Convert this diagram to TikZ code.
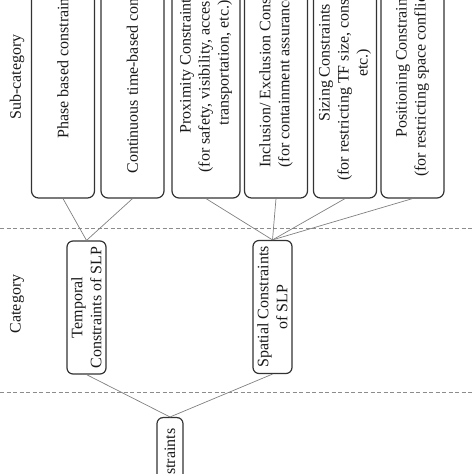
\documentclass[tikz,border=0pt]{standalone}
\usepackage{fontspec}
\setmainfont{Liberation Serif}

\begin{document}
\begin{tikzpicture}[
  x=1pt, y=1pt,
  every node/.style={font=\fontsize{16}{19}\selectfont, text=black!90},
  subbox/.style={draw=black!80, line width=1.2pt, rounded corners=7pt, rotate=90,
              align=center, minimum width=270pt, minimum height=63pt, inner sep=3pt},
  catbox/.style={draw=black!80, line width=1.2pt, rounded corners=6pt, rotate=90,
              align=center, minimum width=133pt, minimum height=39pt, inner sep=2pt},
  rootbox/.style={draw=black!80, line width=1.2pt, rounded corners=6pt, rotate=90,
              anchor=east, minimum height=26pt, inner xsep=11pt, inner ysep=2pt},
  lbl/.style={rotate=90},
  link/.style={draw=black!50, line width=0.7pt},
  sep/.style={draw=black!45, line width=0.9pt, dash pattern=on 4pt off 2.5pt}
]

\useasboundingbox (0,0) rectangle (474,474);
\clip (0,0) rectangle (474,474);

% level labels
\node[lbl] (sublbl) at (17,397) {Sub-category};
\node[lbl] (catlbl) at (17,170) {Category};

% separators
\draw[sep] (0,246) -- (474,246);
\draw[sep] (0,82)  -- (474,82);

% sub-categories
\node[subbox] (phase)  at (63,411)    {Phase based constraints};
\node[subbox] (cont)   at (132.5,411) {Continuous time-based constraints};
\node[subbox, minimum height=68pt] (prox) at (206,411)
  {Proximity Constraints\\(for safety, visibility, accessibility,\\transportation, etc.)};
\node[subbox] (incl)   at (276,411)   {Inclusion/ Exclusion Constraints\\(for containment assurance, etc.)};
\node[subbox] (sizing) at (345,411)
  {Sizing Constraints\\(for restricting TF size, construction,\\etc.)};
\node[subbox] (posit)  at (412.5,411) {Positioning Constraints\\(for restricting space conflicts, etc.)};

% categories
\node[catbox] (temporal) at (86.5,166.5) {Temporal\\Constraints of SLP};
\node[catbox] (spatial)  at (272.5,167)  {Spatial Constraints\\of SLP};

% root
\node[rootbox] (root) at (170,57) {Constraints};

\draw[link] (root.east)     -- (temporal.west);
\draw[link] (root.east)     -- (spatial.west);
\draw[link] (temporal.east) -- (phase.west);
\draw[link] (temporal.east) -- (cont.west);
\draw[link] (spatial.east)  -- (prox.west);
\draw[link] (spatial.east)  -- (incl.west);
\draw[link] (spatial.east)  -- (sizing.west);
\draw[link] (spatial.east)  -- (posit.west);

\end{tikzpicture}
\end{document}
